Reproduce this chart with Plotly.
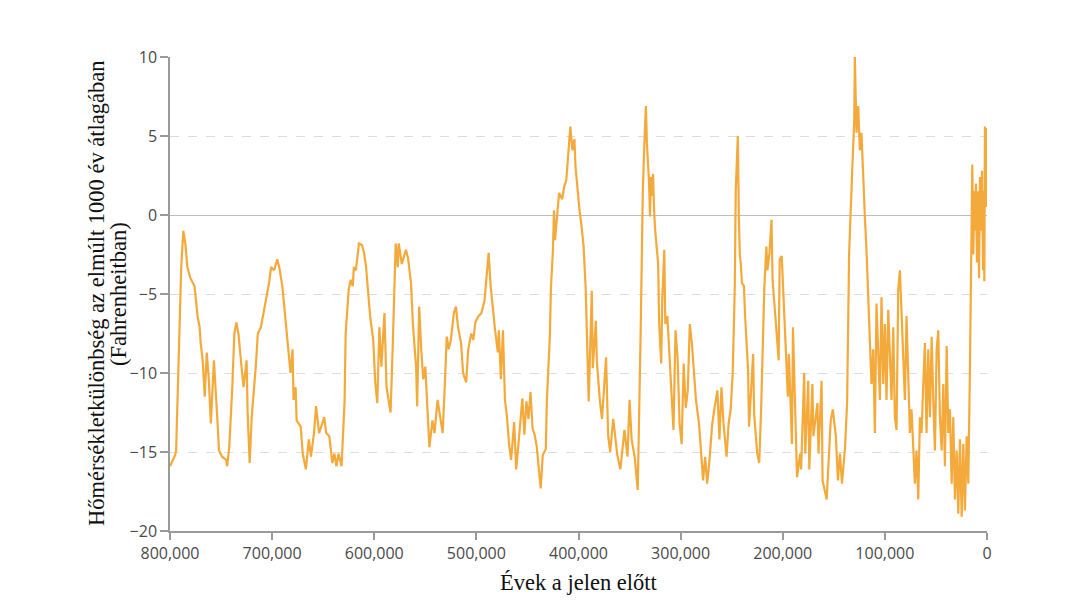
import plotly.graph_objects as go

# Years before present (thousands of years) and temperature difference (°F)
years_k = [
    800, 797, 795, 794, 792, 790, 789, 787, 785, 783, 780, 776, 773, 771, 770, 768, 766, 764, 762, 760,
    757, 754, 752, 749, 745, 744, 742, 739, 737, 735, 733, 730, 728, 725, 724, 722, 720, 716, 714, 711,
    709, 706, 703, 701, 698, 695, 693, 690, 687, 685, 682, 680, 679, 677, 676, 672, 670, 667, 664, 662,
    659, 657, 654, 652, 649, 647, 644, 641, 639, 637, 635, 632, 629, 628, 625, 623, 621, 620, 618, 615,
    612, 610, 608, 606, 604, 601, 599, 597, 595, 593, 590, 588, 585, 584, 582, 580, 579, 577, 576, 573,
    569, 567, 564, 562, 559, 558, 556, 554, 552, 550, 548, 546, 543, 541, 538, 536, 533, 531, 529, 527,
    525, 522, 520, 518, 515, 513, 510, 508, 505, 503, 501, 498, 495, 492, 490, 488, 486, 484, 482, 479,
    478, 476, 474, 472, 470, 468, 466, 463, 461, 458, 455, 453, 451, 449, 447, 445, 443, 441, 439, 437,
    435, 432, 431, 428, 427, 425, 424, 423, 421, 419, 416, 414, 412, 410, 408, 406, 404, 403, 401, 399,
    397, 395, 393, 391, 390, 387, 386, 383, 382, 379, 377, 375, 373, 371, 369, 366, 364, 362, 359, 357,
    355, 352, 350, 348, 345, 342, 341, 339, 338, 337, 335, 334, 333, 331, 330, 329, 328, 327, 326, 325,
    322, 321, 319, 318, 316, 315, 313, 311, 309, 307, 305, 303, 301, 299, 297, 295, 293, 291, 289, 287,
    285, 282, 280, 278, 276, 274, 272, 269, 267, 264, 262, 260, 258, 255, 253, 251, 249, 247, 246, 244,
    243, 242, 241, 240, 238, 237, 234, 233, 229, 228, 225, 223, 221, 219, 218, 216, 215, 213, 211, 210,
    208, 207, 204, 203, 201, 199, 197, 195, 194, 191, 190, 187, 186, 183, 182, 179, 178, 175, 174, 171,
    170, 166, 165, 162, 161, 157, 155, 153, 151, 148, 146, 144, 142, 139, 137, 136, 135, 132, 131, 130,
    129.4, 127.8, 126.1, 124.5, 122.9, 121.2, 119.6, 118.0, 116.3, 114.7, 113.1, 111.4, 109.8, 108.2, 106.5, 104.9,
    103.3, 101.6, 100.0, 98.4, 96.7, 95.1, 93.5, 91.8, 90.2, 88.6, 86.9, 85.3, 83.7, 82.0, 80.4, 78.8,
    77.1, 75.5, 73.9, 72.2, 70.6, 69.0, 67.3, 65.7, 64.1, 62.4, 60.8, 59.2, 57.5, 55.9, 54.2, 52.6,
    51.0, 49.3, 47.7, 46.1, 44.4, 42.8, 41.2, 39.5, 37.9, 36.3, 34.6, 33.0, 31.4, 29.7, 28.1, 26.5,
    24.8, 23.2, 21.6, 19.9, 18.3, 16.7, 16.0, 15.0, 14.4, 13.4, 12.4, 11.8, 10.8, 9.8, 8.8, 7.8,
    6.9, 5.9, 4.9, 3.9, 3.3, 2.6, 2.0, 1.0, 0.0,
]

temp_diff_f = [
    -15.9, -15.5, -15.2, -14.9, -10.8, -6.5, -3.3, -1.0, -1.8, -3.3, -4.0, -4.5, -6.4, -7.1, -8.1, -9.2, -11.5, -8.7, -10.4, -13.2,
    -9.2, -12.5, -14.9, -15.3, -15.5, -15.9, -14.7, -10.9, -7.5, -6.8, -7.5, -9.6, -10.9, -9.2, -12.5, -15.7, -12.8, -9.6, -7.5, -7.1,
    -6.4, -5.6, -4.3, -3.3, -3.5, -2.8, -3.3, -4.5, -6.4, -7.9, -10.0, -8.5, -11.7, -10.9, -13.0, -13.4, -15.1, -16.1, -14.2, -15.3,
    -13.8, -12.1, -13.8, -13.4, -12.8, -13.8, -14.0, -15.7, -15.1, -15.9, -15.1, -15.9, -11.7, -7.5, -4.7, -4.1, -4.5, -3.3, -3.5, -1.8,
    -1.9, -2.4, -3.3, -4.9, -6.4, -7.9, -10.6, -11.9, -7.1, -9.6, -6.2, -10.9, -12.1, -12.5, -8.5, -3.3, -1.8, -3.3, -1.8, -3.1,
    -2.2, -2.7, -4.3, -7.1, -9.6, -12.1, -5.8, -8.5, -10.4, -9.6, -12.5, -14.7, -13.0, -13.8, -11.7, -12.5, -13.8, -10.9, -7.7, -8.5,
    -7.9, -6.2, -5.8, -7.1, -8.1, -10.0, -10.6, -8.5, -7.5, -7.9, -6.8, -6.4, -6.2, -5.4, -3.7, -2.4, -4.5, -6.0, -7.1, -8.7,
    -7.3, -10.4, -7.3, -11.7, -12.8, -14.5, -15.5, -13.1, -16.1, -13.9, -11.6, -13.9, -11.8, -12.9, -11.2, -13.5, -13.9, -14.6, -15.9, -17.3,
    -15.2, -14.8, -11.8, -7.6, -4.6, -2.2, 0.3, -1.6, -0.1, 1.4, 1.0, 1.8, 2.2, 3.9, 5.6, 4.1, 4.8, 3.1, 1.6, 0.3,
    -0.7, -2.0, -4.6, -8.8, -11.8, -4.8, -9.7, -6.7, -9.3, -11.8, -12.9, -11.0, -9.0, -13.9, -15.0, -12.9, -13.9, -15.2, -16.1, -15.0,
    -13.6, -15.3, -11.7, -14.2, -15.3, -17.4, -12.8, -6.9, -2.6, 1.6, 5.4, 6.9, 4.5, 2.2, -0.1, 2.4, 1.2, 2.6, 0.3, -0.9,
    -3.1, -6.9, -9.4, -5.4, -2.2, -6.9, -6.4, -9.0, -11.1, -13.6, -7.3, -9.0, -13.2, -14.5, -9.4, -12.2, -11.1, -6.9, -8.1, -10.0,
    -11.7, -13.2, -14.9, -16.8, -15.3, -17.0, -15.7, -13.2, -12.3, -11.1, -14.2, -10.9, -13.2, -15.3, -13.2, -12.3, -10.0, -4.7, 1.6, 5.0,
    -0.1, -2.6, -3.1, -4.3, -4.5, -6.2, -9.8, -13.4, -8.8, -12.6, -15.1, -15.7, -11.9, -7.7, -4.5, -2.0, -3.5, -2.4, -0.3, -4.1,
    -5.6, -6.6, -9.2, -2.8, -2.6, -5.6, -7.5, -11.5, -8.8, -14.5, -7.1, -14.0, -16.6, -15.1, -16.1, -10.0, -15.1, -10.5, -16.1, -10.7,
    -14.0, -11.9, -15.1, -10.5, -16.8, -18.0, -15.1, -13.0, -12.3, -14.0, -16.8, -15.1, -17.0, -14.7, -11.9, -7.7, -2.4, 2.8, 5.2, 6.0,
    10.0, 5.2, 6.9, 4.1, 5.2, 2.0, -0.1, -2.2, -5.4, -7.5, -10.7, -8.5, -13.8, -5.6, -9.6, -11.7,
    -5.2, -10.7, -6.9, -11.7, -6.0, -8.5, -11.7, -7.1, -12.8, -13.6, -4.7, -3.5, -6.4, -8.5, -11.7, -6.4,
    -10.7, -13.8, -12.3, -14.9, -17.0, -14.9, -18.0, -12.8, -13.8, -10.7, -8.1, -13.8, -8.5, -12.8, -7.7, -11.7,
    -14.9, -8.5, -7.3, -12.8, -14.9, -10.7, -15.9, -8.3, -13.8, -12.3, -17.0, -12.8, -18.0, -14.9, -18.9, -14.2,
    -19.1, -14.5, -18.7, -14.0, -17.0, -9.6, -4.0, -1.5, 3.2, -2.5, 1.5, -1.0, 2.0, -3.0, 1.5, -4.0,
    2.4, -1.0, 2.8, -3.5, 1.5, -4.2, 5.6, 0.5, 5.5,
]

x_tick_vals = [800000, 700000, 600000, 500000, 400000, 300000, 200000, 100000, 0]
y_tick_vals = [-20, -15, -10, -5, 0, 5, 10]

x_title = "Évek a jelen előtt"
y_title_line1 = "Hőmérsékletkülönbség az elmúlt 1000 év átlagában"
y_title_line2 = "(Fahrenheitban)"

years = [k * 1000 for k in years_k]

fig = go.Figure(
    go.Scatter(
        x=years,
        y=temp_diff_f,
        mode="lines",
        line=dict(color="#F4A93B", width=2.2),
        hoverinfo="skip",
    )
)

tick_font = dict(family="Open Sans, sans-serif", size=16, color="#4a4a4a")
title_font = dict(family="Liberation Serif, Times New Roman, serif", size=22.5, color="#111111")

fig.update_layout(
    width=1083,
    height=605,
    margin=dict(l=162, r=104, t=49, b=82),
    paper_bgcolor="white",
    plot_bgcolor="white",
    showlegend=False,
    xaxis=dict(
        range=[800000, 0],
        tickvals=x_tick_vals,
        tickformat=",d",
        showline=True,
        linecolor="#9a9a9a",
        linewidth=1.5,
        ticks="outside",
        ticklen=7,
        tickcolor="#9a9a9a",
        tickwidth=1.5,
        showgrid=False,
        zeroline=False,
        tickfont=tick_font,
    ),
    yaxis=dict(
        range=[-20, 10],
        tickvals=y_tick_vals,
        showline=True,
        linecolor="#9a9a9a",
        linewidth=1.5,
        ticks="outside",
        ticklen=8,
        tickcolor="#9a9a9a",
        tickwidth=1.5,
        showgrid=True,
        gridcolor="#dddddd",
        griddash="dash",
        gridwidth=1,
        zeroline=True,
        zerolinecolor="#bdbdbd",
        zerolinewidth=1.2,
        tickfont=tick_font,
    ),
    annotations=[
        dict(text=x_title, xref="paper", yref="paper", x=0.5, y=0, xanchor="center",
             yanchor="middle", yshift=-51, showarrow=False, font=title_font),
        dict(text=y_title_line1, xref="paper", yref="paper", x=0, y=0.5, xanchor="center",
             yanchor="middle", xshift=-74, textangle=-90, showarrow=False, font=title_font),
        dict(text=y_title_line2, xref="paper", yref="paper", x=0, y=0.5, xanchor="center",
             yanchor="middle", xshift=-52, textangle=-90, showarrow=False, font=title_font),
    ],
)

fig.write_html("out.html")
